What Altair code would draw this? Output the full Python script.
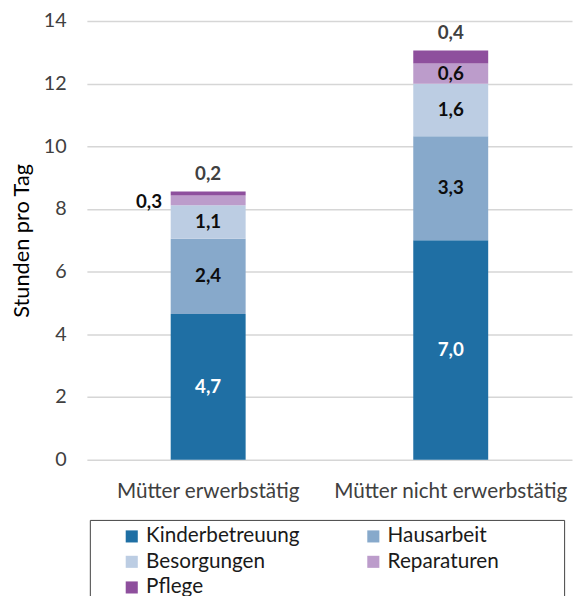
import altair as alt
import pandas as pd

groups = ["Mütter erwerbstätig", "Mütter nicht erwerbstätig"]
categories = ["Kinderbetreuung", "Hausarbeit", "Besorgungen", "Reparaturen", "Pflege"]
colors = ["#1F6FA4", "#87A9CB", "#BCCDE3", "#BC9CCB", "#8E4F9D"]
values_erw = [4.65, 2.40, 1.07, 0.31, 0.13]
values_nicht = [7.00, 3.32, 1.68, 0.64, 0.42]
labels_erw = ["4,7", "2,4", "1,1", "0,3", "0,2"]
labels_nicht = ["7,0", "3,3", "1,6", "0,6", "0,4"]
y_ticks = [0, 2, 4, 6, 8, 10, 12, 14]

rows = []
for g, vals, labs in [(groups[0], values_erw, labels_erw), (groups[1], values_nicht, labels_nicht)]:
    for i, (c, v, l) in enumerate(zip(categories, vals, labs)):
        rows.append({"group": g, "category": c, "value": v, "label": l, "order": i})
df = pd.DataFrame(rows)

FONT = "Lato"

x_enc = alt.X("group:N", sort=groups, title=None,
              scale=alt.Scale(paddingInner=0, paddingOuter=0))
y_scale = alt.Scale(domain=[0, 14], nice=False)

base = alt.Chart(df)

bars = base.mark_bar(size=76).encode(
    x=x_enc,
    y=alt.Y("sum(value):Q", title="Stunden pro Tag", scale=y_scale,
            axis=alt.Axis(values=y_ticks)),
    color=alt.Color("category:N", sort=categories,
                    scale=alt.Scale(domain=categories, range=colors),
                    legend=alt.Legend(
                        # invisible spacer title widens the legend frame on the right
                        title="00", titleOrient="right", titleColor="transparent",
                        titleFont="DejaVu Sans Mono", titleFontSize=46,
                        titlePadding=4, titleLineHeight=46,
                        orient="none", legendX=3, legendY=506, columns=2,
                        direction="horizontal",
                    )),
    order=alt.Order("order:Q", sort="ascending"),
)

stacked = base.transform_stack(
    stack="value", groupby=["group"], as_=["y0", "y1"],
    sort=[alt.SortField("order", "ascending")],
).transform_calculate(mid="(datum.y0 + datum.y1) / 2")

inside = stacked.transform_filter(
    "datum.category == 'Kinderbetreuung' || datum.category == 'Hausarbeit' || "
    "datum.category == 'Besorgungen' || (datum.category == 'Reparaturen' && datum.group == '"
    + groups[1] + "')"
).mark_text(font=FONT, fontSize=19, fontWeight="bold").encode(
    x=alt.X("group:N", sort=groups),
    y=alt.Y("mid:Q", scale=y_scale),
    text="label:N",
    color=alt.condition("datum.category == 'Kinderbetreuung'",
                        alt.value("#FFFFFF"), alt.value("#0D0D0D")),
)

left = stacked.transform_filter(
    "datum.category == 'Reparaturen' && datum.group == '" + groups[0] + "'"
).mark_text(font=FONT, fontSize=19, fontWeight="bold", dx=-60, dy=2, color="#0D0D0D").encode(
    x=alt.X("group:N", sort=groups),
    y=alt.Y("mid:Q", scale=y_scale),
    text="label:N",
)

top = stacked.transform_filter("datum.category == 'Pflege'").mark_text(
    font=FONT, fontSize=19, fontWeight="bold", dy=-18, color="#404040"
).encode(
    x=alt.X("group:N", sort=groups),
    y=alt.Y("y1:Q", scale=y_scale),
    text="label:N",
)

chart = alt.layer(bars, inside, left, top).properties(
    width=492, height=445,
    autosize=alt.AutoSizeParams(type="none"),
    padding={"left": 80, "top": 9, "right": 1, "bottom": 134},
).configure_view(stroke=None).configure_axisX(
    labelAngle=0, ticks=False, domain=False, labelFontSize=21, labelColor="#404040",
    labelPadding=21, labelFont=FONT, labelLimit=400, grid=False,
).configure_axisY(
    ticks=False, domain=False, labelFontSize=20, labelColor="#404040",
    labelPadding=21, labelFont=FONT, titleFont=FONT, titleFontSize=22,
    titleFontWeight="normal", titleColor="#000000", titlePadding=10,
    gridColor="#D6D6D6", gridWidth=1.5,
).configure_legend(
    symbolType="square", symbolSize=150, symbolStrokeWidth=0,
    symbolOffset=26, labelOffset=4, labelLimit=400,
    labelFont=FONT, labelFontSize=21, labelColor="#1a1a1a",
    columnPadding=38, rowPadding=4, padding=6,
    strokeColor="#404040", fillColor="#FFFFFF",
)

chart.save("out.html", embed_options={"renderer": "svg", "actions": False})
